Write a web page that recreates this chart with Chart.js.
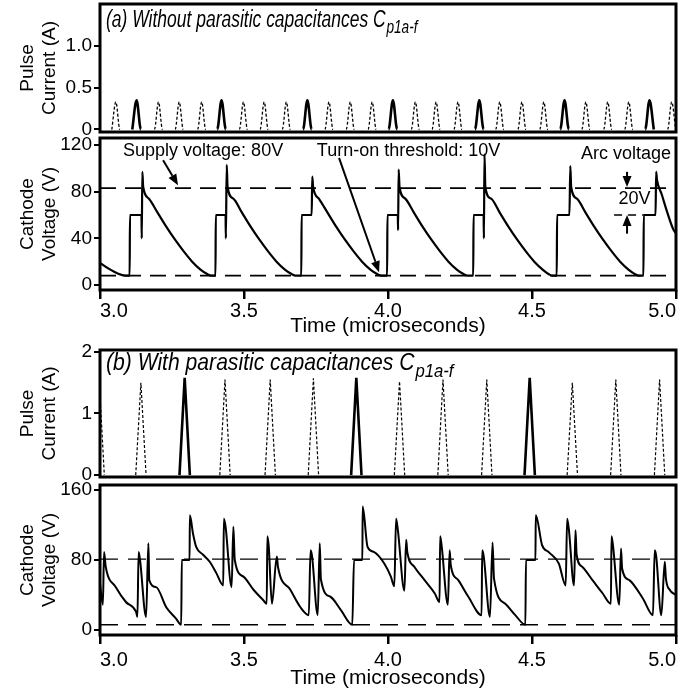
<!DOCTYPE html>
<html>
<head>
<meta charset="utf-8">
<script src="https://cdn.jsdelivr.net/npm/chart.js@4.4.1/dist/chart.umd.min.js"></script>
<style>
  body { margin: 0; background: #fff; }
  #wrap { position: relative; width: 681px; height: 689px; overflow: hidden; background: #fff; }
  canvas { position: absolute; left: 0; }
</style>
</head>
<body>
<div id="wrap">
  <canvas id="aCurrent" width="681" height="150" style="top:-8px"></canvas>
  <canvas id="aVolt" width="681" height="212" style="top:126px"></canvas>
  <canvas id="bCurrent" width="681" height="149" style="top:338px"></canvas>
  <canvas id="bVolt" width="681" height="217" style="top:473px"></canvas>
</div>
<script>
const timeTicks = [3.0, 3.5, 4.0, 4.5, 5.0];
const aCurrentTicks = [0, 0.5, 1.0];
const aCurrentLabels = ["0", "0.5", "1.0"];
const aVoltageTicks = [0, 40, 80, 120];
const bCurrentTicks = [0, 1, 2];
const bVoltageTicks = [0, 80, 160];

// (a) pulse current, [time (us), current (A)]
const aCurrentOthers = [
  [3.041, 0], [3.055, 0.33], [3.069, 0],
  [3.189, 0], [3.203, 0.33], [3.217, 0],
  [3.261, 0], [3.275, 0.33], [3.289, 0],
  [3.339, 0], [3.353, 0.33], [3.367, 0],
  [3.484, 0], [3.498, 0.33], [3.512, 0],
  [3.556, 0], [3.570, 0.33], [3.584, 0],
  [3.633, 0], [3.647, 0.33], [3.661, 0],
  [3.781, 0], [3.795, 0.33], [3.809, 0],
  [3.855, 0], [3.869, 0.33], [3.883, 0],
  [3.931, 0], [3.945, 0.33], [3.959, 0],
  [4.081, 0], [4.095, 0.33], [4.109, 0],
  [4.153, 0], [4.167, 0.33], [4.181, 0],
  [4.229, 0], [4.243, 0.33], [4.257, 0],
  [4.374, 0], [4.388, 0.33], [4.402, 0],
  [4.451, 0], [4.465, 0.33], [4.479, 0],
  [4.527, 0], [4.541, 0.33], [4.555, 0],
  [4.673, 0], [4.687, 0.33], [4.701, 0],
  [4.749, 0], [4.763, 0.33], [4.777, 0],
  [4.822, 0], [4.836, 0.33], [4.850, 0],
  [4.971, 0], [4.985, 0.33], [4.999, 0]
];
const aCurrentModule = [
  [3.112, 0], [3.127, 0.35], [3.142, 0],
  [3.407, 0], [3.422, 0.35], [3.437, 0],
  [3.705, 0], [3.720, 0.35], [3.735, 0],
  [4.002, 0], [4.017, 0.35], [4.032, 0],
  [4.302, 0], [4.317, 0.35], [4.332, 0],
  [4.598, 0], [4.613, 0.35], [4.628, 0],
  [4.893, 0], [4.908, 0.35], [4.923, 0]
];

// (a) cathode voltage, [time (us), V]
const aVoltage = [
  [3.000, 19], [3.030, 14], [3.060, 10], [3.089, 8], [3.103, 8], [3.104, 60],
  [3.144, 60], [3.145, 40], [3.147, 97], [3.150, 84],
  [3.170, 74], [3.200, 62], [3.230, 50], [3.260, 39], [3.290, 29], [3.320, 20], [3.350, 13], [3.375, 9], [3.385, 8], [3.401, 8], [3.402, 60],
  [3.436, 60], [3.437, 40], [3.440, 103], [3.443, 84],
  [3.463, 74], [3.493, 62], [3.523, 50], [3.553, 39], [3.583, 29], [3.613, 20], [3.643, 13], [3.668, 9], [3.678, 8], [3.699, 8], [3.700, 60],
  [3.735, 60], [3.737, 93], [3.740, 84],
  [3.760, 74], [3.790, 62], [3.820, 50], [3.850, 39], [3.880, 29], [3.910, 20], [3.940, 13], [3.965, 9], [3.976, 8], [3.997, 8], [3.998, 60],
  [4.034, 60], [4.035, 47], [4.037, 99], [4.040, 84],
  [4.060, 74], [4.090, 62], [4.120, 50], [4.150, 39], [4.180, 29], [4.210, 20], [4.240, 13], [4.265, 9], [4.275, 8], [4.296, 8], [4.297, 60],
  [4.332, 60], [4.333, 40], [4.335, 112], [4.338, 84],
  [4.358, 74], [4.388, 62], [4.418, 50], [4.448, 39], [4.478, 29], [4.508, 20], [4.538, 13], [4.560, 9], [4.570, 8], [4.586, 8], [4.587, 60],
  [4.630, 60], [4.633, 102], [4.636, 84],
  [4.656, 74], [4.686, 62], [4.716, 50], [4.746, 39], [4.776, 29], [4.806, 20], [4.836, 13], [4.860, 9], [4.870, 8], [4.887, 8], [4.888, 60],
  [4.929, 60], [4.931, 97], [4.934, 90], [4.950, 78], [4.970, 62], [4.990, 48], [5.000, 44]
];
const aSupplyLine = [[3.0, 83], [5.0, 83]];
const aThresholdLine = [[3.0, 8], [5.0, 8]];
const aArcLevel = [[4.785, 60], [4.888, 60]];

// (b) pulse current
const bCurrentOthers = [
  [2.979, 0], [2.997, 1.55], [3.015, 0],
  [3.124, 0], [3.142, 1.50], [3.160, 0],
  [3.416, 0], [3.434, 1.55], [3.452, 0],
  [3.573, 0], [3.591, 1.55], [3.609, 0],
  [3.723, 0], [3.741, 1.57], [3.759, 0],
  [4.022, 0], [4.040, 1.52], [4.058, 0],
  [4.173, 0], [4.191, 1.55], [4.209, 0],
  [4.325, 0], [4.343, 1.55], [4.361, 0],
  [4.622, 0], [4.640, 1.50], [4.658, 0],
  [4.773, 0], [4.791, 1.55], [4.809, 0],
  [4.925, 0], [4.943, 1.55], [4.961, 0]
];
const bCurrentModule = [
  [3.276, 0], [3.294, 1.58], [3.312, 0],
  [3.872, 0], [3.890, 1.58], [3.908, 0],
  [4.474, 0], [4.492, 1.58], [4.510, 0]
];

// (b) cathode voltage
const bVoltage = [
  [3.000, 53], [3.010, 29], [3.014, 89], [3.020, 72], [3.055, 49], [3.090, 32], [3.125, 21], [3.130, 15],
  [3.134, 89], [3.139, 80], [3.160, 15], [3.168, 99], [3.171, 57], [3.195, 49], [3.230, 26], [3.264, 13], [3.282, 6], [3.284, 80],
  [3.311, 80], [3.312, 131], [3.323, 110], [3.334, 95], [3.358, 86], [3.381, 78], [3.404, 65], [3.428, 51],
  [3.430, 127], [3.436, 118], [3.457, 49], [3.463, 118], [3.468, 80], [3.498, 61], [3.533, 46], [3.567, 34], [3.579, 30],
  [3.581, 107], [3.586, 95], [3.597, 30], [3.614, 84], [3.618, 72], [3.661, 46], [3.696, 26], [3.725, 17],
  [3.731, 91], [3.736, 85], [3.756, 17], [3.763, 99], [3.767, 58], [3.800, 38], [3.836, 23], [3.876, 6], [3.882, 80],
  [3.911, 80], [3.912, 141], [3.929, 95], [3.952, 89], [3.987, 76], [4.010, 61], [4.022, 50],
  [4.028, 127], [4.034, 115], [4.057, 45], [4.063, 103], [4.067, 89], [4.092, 72], [4.127, 57], [4.162, 42], [4.179, 32],
  [4.181, 107], [4.186, 97], [4.208, 29], [4.214, 91], [4.218, 74], [4.244, 57], [4.279, 38], [4.325, 17],
  [4.327, 91], [4.332, 85], [4.354, 15], [4.363, 100], [4.368, 59], [4.407, 30], [4.442, 17], [4.477, 6], [4.479, 80],
  [4.512, 80], [4.513, 131], [4.535, 97], [4.558, 89], [4.593, 76], [4.617, 51],
  [4.622, 127], [4.628, 115], [4.646, 51], [4.651, 114], [4.655, 86], [4.675, 72], [4.710, 57], [4.745, 42], [4.774, 30],
  [4.776, 107], [4.781, 97], [4.803, 29], [4.809, 93], [4.813, 70], [4.838, 57], [4.885, 36], [4.920, 17],
  [4.926, 91], [4.931, 85], [4.949, 17], [4.961, 78], [4.965, 59], [4.978, 46], [5.000, 40]
];
const bSupplyLine = [[3.0, 81], [5.0, 81]];
const bThresholdLine = [[3.0, 6], [5.0, 6]];

const sans = "'Liberation Sans', Arial, sans-serif";

const framePlugin = {
  id: "frame",
  afterDatasetsDraw(chart) {
    const { ctx, chartArea: a } = chart;
    ctx.save();
    ctx.strokeStyle = "#000";
    ctx.lineWidth = 3;
    ctx.strokeRect(a.left, a.top, a.right - a.left, a.bottom - a.top);
    ctx.restore();
  }
};

// italic panel caption, squeezed sideways like the condensed face of the original
const panelTitle = {
  id: "panelTitle",
  afterDraw(chart, args, opts) {
    if (!opts.text) return;
    const { ctx, chartArea: a } = chart;
    ctx.save();
    ctx.fillStyle = "#000";
    ctx.textBaseline = "alphabetic";
    ctx.translate(a.left + 6, a.top + opts.dy);
    ctx.scale(opts.sx, 1);
    ctx.font = "italic " + opts.size + "px " + sans;
    ctx.fillText(opts.text, 0, 0);
    const w = ctx.measureText(opts.text).width;
    ctx.font = "italic " + Math.round(opts.size * 0.78) + "px " + sans;
    ctx.fillText(opts.sub, w + 1, opts.size * 0.28);
    ctx.restore();
  }
};

function arrow(ctx, x1, y1, x2, y2) {
  const ang = Math.atan2(y2 - y1, x2 - x1);
  const L = 11, W = 4.5;
  const bx = x2 - L * Math.cos(ang), by = y2 - L * Math.sin(ang);
  ctx.lineWidth = 2;
  ctx.beginPath();
  ctx.moveTo(x1, y1);
  ctx.lineTo(bx, by);
  ctx.stroke();
  ctx.beginPath();
  ctx.moveTo(x2, y2);
  ctx.lineTo(bx + W * Math.sin(ang), by - W * Math.cos(ang));
  ctx.lineTo(bx - W * Math.sin(ang), by + W * Math.cos(ang));
  ctx.closePath();
  ctx.fill();
}

const aNotes = {
  id: "aNotes",
  afterDatasetsDraw(chart) {
    const { ctx, scales: { x, y } } = chart;
    const px = t => x.getPixelForValue(t);
    const py = v => y.getPixelForValue(v);
    ctx.save();
    ctx.fillStyle = "#000";
    ctx.strokeStyle = "#000";
    ctx.font = "18px " + sans;
    ctx.textBaseline = "middle";
    ctx.fillText("Supply voltage: 80V", px(3.08), py(115));
    ctx.fillText("Turn-on threshold: 10V", px(3.753), py(115));
    ctx.fillText("Arc voltage", px(4.67), py(112));
    ctx.fillText("20V", px(4.80), py(74));
    arrow(ctx, px(3.219), py(107), px(3.271), py(85.5));
    arrow(ctx, px(3.83), py(109), px(3.969), py(11));
    arrow(ctx, px(4.83), py(97), px(4.83), py(84));
    arrow(ctx, px(4.83), py(44), px(4.83), py(60));
    ctx.restore();
  }
};

// hide the flat stretches between pulses
const hideBase = { borderColor: c => (c.p0.parsed.y === 0 && c.p1.parsed.y === 0) ? "rgba(0,0,0,0)" : undefined };

function line(data, width, dash, mono, segment) {
  return {
    data: data,
    borderColor: "#000",
    borderWidth: width,
    borderDash: dash,
    pointRadius: 0,
    fill: false,
    cubicInterpolationMode: mono ? "monotone" : "default",
    tension: 0,
    segment: segment
  };
}

function yScale(ticks, labels, min, max, title) {
  return {
    min: min,
    max: max,
    afterBuildTicks: s => { s.ticks = ticks.map(v => ({ value: v })); },
    afterFit: s => { s.width = 100; s.paddingTop = 0; s.paddingBottom = 0; },
    ticks: { color: "#000", font: { family: sans, size: 19 }, padding: 2, callback: (v, i) => labels[i] },
    grid: { drawOnChartArea: false, color: "#000", lineWidth: 2, tickLength: 6 },
    border: { display: false },
    title: {
      display: true, text: title, color: "#000",
      font: { family: sans, size: 19, lineHeight: 1.2 },
      padding: { top: 16, bottom: 0 }
    }
  };
}

function xScale(show, height, pad) {
  return {
    type: "linear",
    min: 3,
    max: 5,
    display: show,
    afterBuildTicks: s => { s.ticks = timeTicks.map(v => ({ value: v })); },
    afterFit: s => { s.height = height; s.paddingLeft = 0; s.paddingRight = 0; },
    ticks: {
      color: "#000", font: { family: sans, size: 20 }, padding: pad, align: "inner", maxRotation: 0,
      callback: (v, i) => timeTicks[i].toFixed(1)
    },
    grid: { drawOnChartArea: false, color: "#000", lineWidth: 2.5, tickLength: 9 },
    border: { display: false },
    title: {
      display: true, text: "Time (microseconds)", color: "#000",
      font: { family: sans, size: 21, lineHeight: 1.15 }, padding: 0
    }
  };
}

function makeChart(id, datasets, y, x, pad, title, extra) {
  return new Chart(document.getElementById(id), {
    type: "line",
    data: { datasets: datasets },
    options: {
      responsive: false,
      animation: false,
      events: [],
      layout: { padding: pad },
      scales: { x: x, y: y },
      plugins: {
        legend: { display: false },
        tooltip: { enabled: false },
        panelTitle: title || {}
      }
    },
    plugins: [framePlugin, panelTitle].concat(extra || [])
  });
}

makeChart("aCurrent",
  [line(aCurrentOthers, 1.3, [3, 2], true, hideBase), line(aCurrentModule, 2.6, [], true, hideBase)],
  yScale(aCurrentTicks, aCurrentLabels, -0.03, 1.5, ["Pulse", "Current (A)"]),
  xScale(false, 0, 0),
  { left: 0, right: 5, top: 12, bottom: 10 },
  { text: "(a) Without parasitic capacitances C", sub: "p1a-f", size: 23, dy: 23, sx: 0.76 });

makeChart("aVolt",
  [line(aSupplyLine, 1.6, [16, 9], false), line(aThresholdLine, 1.6, [16, 9], false),
   line(aArcLevel, 1.6, [8, 6], false), line(aVoltage, 2.2, [], true)],
  yScale(aVoltageTicks, aVoltageTicks.map(String), -4.3, 126, ["Cathode", "Voltage (V)"]),
  xScale(true, 48, 0),
  { left: 0, right: 5, top: 12, bottom: 0 },
  null, [aNotes]);

makeChart("bCurrent",
  [line(bCurrentOthers, 1.2, [3, 2], false, hideBase), line(bCurrentModule, 2.6, [], false, hideBase)],
  yScale(bCurrentTicks, bCurrentTicks.map(String), -0.03, 2.03, ["Pulse", "Current (A)"]),
  xScale(false, 0, 0),
  { left: 0, right: 5, top: 12, bottom: 10 },
  { text: "(b) With parasitic capacitances C", sub: "p1a-f", size: 24, dy: 20, sx: 0.88 });

makeChart("bVolt",
  [line(bSupplyLine, 1.3, [18, 10], false), line(bThresholdLine, 1.3, [18, 10], false),
   line(bVoltage, 2, [], true)],
  yScale(bVoltageTicks, bVoltageTicks.map(String), -5.7, 165.7, ["Cathode", "Voltage (V)"]),
  xScale(true, 55, 4),
  { left: 0, right: 5, top: 12, bottom: 0 },
  null);
</script>
</body>
</html>
